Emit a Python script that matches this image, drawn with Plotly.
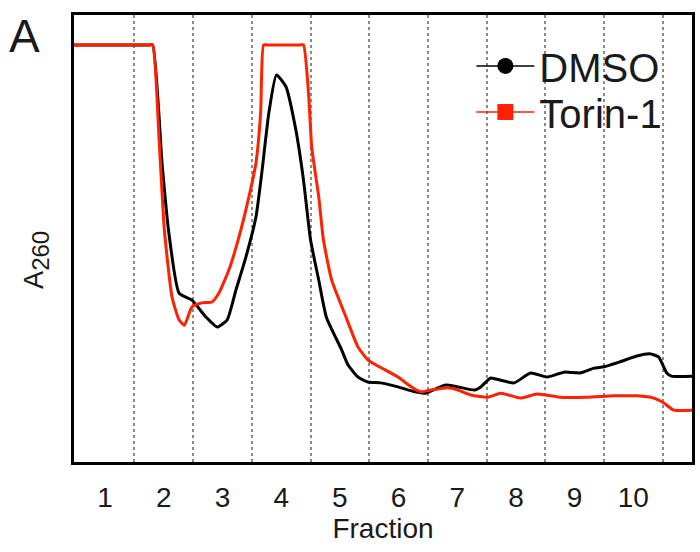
import plotly.graph_objects as go

# Fraction position (fraction units) and A260 (arbitrary units)
dmso_x = [0.47, 1.0, 1.75, 1.81, 1.97, 2.08, 2.26, 2.48, 2.72, 2.91, 3.08, 3.23, 3.40, 3.57,
          3.67, 3.79, 3.92, 4.08, 4.25, 4.38, 4.50, 4.64, 4.77, 5.03, 5.14, 5.31, 5.48, 5.70,
          5.99, 6.28, 6.45, 6.79, 7.01, 7.30, 7.40, 7.57, 7.74, 7.97, 8.25, 8.53, 8.82, 9.09,
          9.33, 9.50, 9.77, 10.06, 10.28, 10.43, 10.57, 10.65, 11.05]
dmso_y = [0.933, 0.933, 0.933, 0.933, 0.669, 0.519, 0.378, 0.362, 0.324, 0.302, 0.318, 0.385,
          0.459, 0.548, 0.647, 0.781, 0.866, 0.840, 0.743, 0.631, 0.497, 0.407, 0.324, 0.251,
          0.217, 0.190, 0.179, 0.177, 0.168, 0.157, 0.154, 0.172, 0.168, 0.161, 0.168, 0.188,
          0.183, 0.177, 0.199, 0.190, 0.201, 0.199, 0.210, 0.213, 0.224, 0.237, 0.242, 0.235,
          0.199, 0.192, 0.192]

torin_x = [0.47, 1.0, 1.75, 1.81, 1.92, 2.01, 2.14, 2.26, 2.35, 2.48, 2.65, 2.82, 2.94, 3.11,
           3.28, 3.45, 3.57, 3.65, 3.70, 3.76, 4.32, 4.38, 4.47, 4.52, 4.64, 4.72, 4.86, 5.09,
           5.31, 5.48, 5.77, 5.99, 6.22, 6.38, 6.55, 6.84, 7.01, 7.23, 7.52, 7.74, 8.08, 8.36,
           8.75, 9.21, 9.67, 10.06, 10.35, 10.52, 10.69, 11.05]
torin_y = [0.933, 0.933, 0.933, 0.933, 0.720, 0.519, 0.369, 0.318, 0.306, 0.347, 0.356, 0.358,
           0.378, 0.430, 0.503, 0.593, 0.669, 0.781, 0.933, 0.933, 0.933, 0.933, 0.817, 0.705,
           0.593, 0.497, 0.407, 0.329, 0.257, 0.228, 0.206, 0.190, 0.168, 0.157, 0.161, 0.166,
           0.161, 0.150, 0.145, 0.154, 0.143, 0.152, 0.145, 0.145, 0.148, 0.148, 0.143, 0.132,
           0.116, 0.116]

fraction_ticks = [1, 2, 3, 4, 5, 6, 7, 8, 9, 10]
fraction_labels = ["1", "2", "3", "4", "5", "6", "7", "8", "9", "10"]
fraction_bounds = [1.5, 2.5, 3.5, 4.5, 5.5, 6.5, 7.5, 8.5, 9.5, 10.5]

BLACK = "#000000"
RED = "#ff2200"
TEXT = "#1a1a1a"

fig = go.Figure()
fig.add_trace(go.Scatter(x=dmso_x, y=dmso_y, mode="lines", showlegend=False,
                         line=dict(color=BLACK, width=3, shape="spline", smoothing=0.5)))
fig.add_trace(go.Scatter(x=torin_x, y=torin_y, mode="lines", showlegend=False,
                         line=dict(color=RED, width=3, shape="spline", smoothing=0.5)))
# legend entries (one legend each, so the rows can be placed like the reference)
fig.add_trace(go.Scatter(x=[None], y=[None], mode="lines+markers", name="DMSO", legend="legend",
                         line=dict(color=BLACK, width=1.5),
                         marker=dict(symbol="circle", size=16, color=BLACK)))
fig.add_trace(go.Scatter(x=[None], y=[None], mode="lines+markers", name="Torin-1", legend="legend2",
                         line=dict(color=RED, width=1.5),
                         marker=dict(symbol="square", size=16, color=RED)))

legend_style = dict(xanchor="left", yanchor="middle", font=dict(size=40, color=TEXT),
                    bgcolor="rgba(0,0,0,0)", itemwidth=58, borderwidth=0)

fig.update_layout(
    width=700, height=552,
    margin=dict(l=74, r=5, t=15, b=90),
    paper_bgcolor="white", plot_bgcolor="white",
    font=dict(family="Liberation Sans, Arial, sans-serif", color=TEXT),
    legend=dict(x=0.643, y=0.886, **legend_style),
    legend2=dict(x=0.643, y=0.783, **legend_style),
    annotations=[
        dict(text="A", x=-0.108, y=1.015, xref="paper", yref="paper",
             xanchor="left", yanchor="top", showarrow=False,
             font=dict(size=46, color=TEXT)),
        dict(text="A<sub><span style='font-size:24px'>260</span></sub>", textangle=-90,
             x=-0.06, y=0.452, xref="paper", yref="paper",
             xanchor="center", yanchor="middle", showarrow=False,
             font=dict(size=27, color=TEXT)),
    ],
)
fig.update_xaxes(range=[0.47, 11.0], tickmode="array", tickvals=fraction_ticks,
                 ticktext=fraction_labels, ticks="", showgrid=False, zeroline=False,
                 showline=True, linecolor=BLACK, linewidth=3, mirror=True,
                 tickfont=dict(size=28, color=TEXT), ticklabelstandoff=8,
                 title=dict(text="Fraction", font=dict(size=28, color=TEXT), standoff=0),
                 minor=dict(tickmode="array", tickvals=fraction_bounds, showgrid=True,
                            griddash="dot", gridcolor="#8a8a8a", gridwidth=1.5, ticks=""))
fig.update_yaxes(range=[0, 1], showticklabels=False, ticks="", showgrid=False, zeroline=False,
                 showline=True, linecolor=BLACK, linewidth=3, mirror=True)

fig.write_html("out.html")
